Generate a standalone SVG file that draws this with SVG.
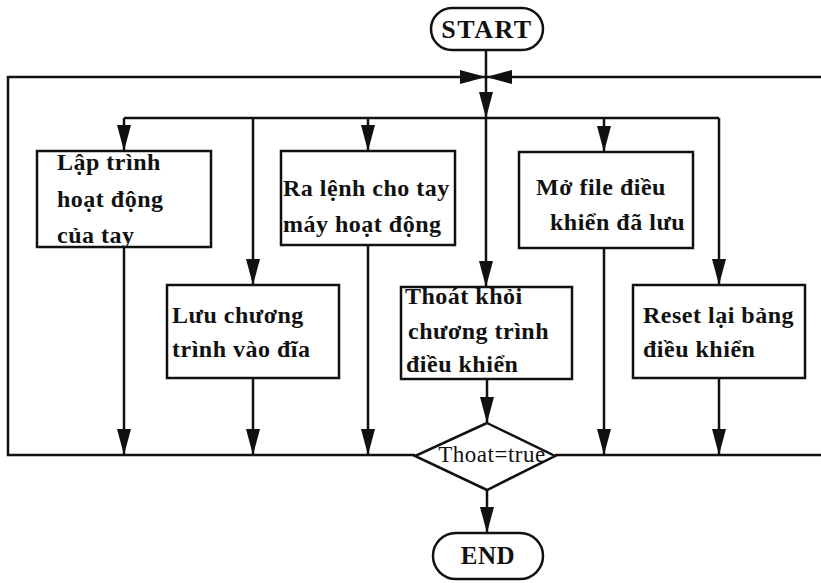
<svg xmlns="http://www.w3.org/2000/svg" width="821" height="583" viewBox="0 0 821 583">
<defs>
<style>
.ln{fill:none;stroke:#111;stroke-width:2.5}
.bx{fill:#fff;stroke:#111;stroke-width:2.5}
.t{font-family:"Liberation Serif","Times New Roman",serif;font-weight:bold;font-size:24px;letter-spacing:0.5px;fill:#111}
.d{font-family:"Liberation Serif","Times New Roman",serif;font-size:23px;letter-spacing:0.5px;fill:#111}
</style>
<marker id="ar" markerUnits="userSpaceOnUse" markerWidth="26" markerHeight="14" viewBox="0 0 26 14" refX="26" refY="7" orient="auto">
<path d="M0,0 L26,7 L0,14 Z" fill="#111"/>
</marker>
</defs>
<rect width="821" height="583" fill="#fff"/>
<g id="connectors">
<path class="ln" d="M486,50 V118" marker-end="url(#ar)"/>
<path class="ln" d="M415,455 H8 V77 H486" marker-end="url(#ar)"/>
<path class="ln" d="M555,455 H821 M821,77 H486" marker-end="url(#ar)"/>
<path class="ln" d="M124,118 H719"/>
<path class="ln" d="M124,118 V151" marker-end="url(#ar)"/>
<path class="ln" d="M253,118 V285" marker-end="url(#ar)"/>
<path class="ln" d="M368,118 V151" marker-end="url(#ar)"/>
<path class="ln" d="M486,118 V287" marker-end="url(#ar)"/>
<path class="ln" d="M604,118 V152" marker-end="url(#ar)"/>
<path class="ln" d="M719,118 V285" marker-end="url(#ar)"/>
<path class="ln" d="M124,247 V455" marker-end="url(#ar)"/>
<path class="ln" d="M253,378 V455" marker-end="url(#ar)"/>
<path class="ln" d="M368,245 V455" marker-end="url(#ar)"/>
<path class="ln" d="M604,248 V455" marker-end="url(#ar)"/>
<path class="ln" d="M719,378 V455" marker-end="url(#ar)"/>
<path class="ln" d="M487,379 V423" marker-end="url(#ar)"/>
<path class="ln" d="M487,490 V533" marker-end="url(#ar)"/>
</g>
<g id="start">
<rect class="bx" x="431" y="8" width="112" height="42" rx="21"/>
<text class="t" x="487" y="38" text-anchor="middle" style="font-size:26px;letter-spacing:1.5px">START</text>
</g>
<g id="n1">
<rect class="bx" x="37" y="151" width="174" height="96"/>
<text class="t" x="57" y="170">Lập trình</text>
<text class="t" x="57" y="207">hoạt động</text>
<text class="t" x="57" y="243">của tay</text>
</g>
<g id="n2">
<rect class="bx" x="167" y="285" width="172" height="93"/>
<text class="t" x="172" y="323">Lưu chương</text>
<text class="t" x="172" y="357">trình vào đĩa</text>
</g>
<g id="n3">
<rect class="bx" x="281" y="151" width="174" height="94"/>
<text class="t" x="283" y="196">Ra lệnh cho tay</text>
<text class="t" x="283" y="232">máy hoạt động</text>
</g>
<g id="n4">
<rect class="bx" x="519" y="152" width="174" height="96"/>
<text class="t" x="536" y="195">Mở file điều</text>
<text class="t" x="550" y="230">khiển đã lưu</text>
</g>
<g id="n5">
<rect class="bx" x="401" y="287" width="171" height="92"/>
<text class="t" x="405" y="304">Thoát khỏi</text>
<text class="t" x="408" y="339">chương trình</text>
<text class="t" x="406" y="372">điều khiển</text>
</g>
<g id="n6">
<rect class="bx" x="633" y="285" width="172" height="93"/>
<text class="t" x="643" y="323">Reset lại bảng</text>
<text class="t" x="643" y="357">điều khiển</text>
</g>
<g id="decision">
<polygon class="bx" points="487,423 555,456 487,490 415,456"/>
<text class="d" x="492" y="462" text-anchor="middle">Thoat=true</text>
</g>
<g id="end">
<rect class="bx" x="433" y="533" width="110" height="46" rx="23"/>
<text class="t" x="488" y="564" text-anchor="middle" style="font-size:25px">END</text>
</g>
</svg>
